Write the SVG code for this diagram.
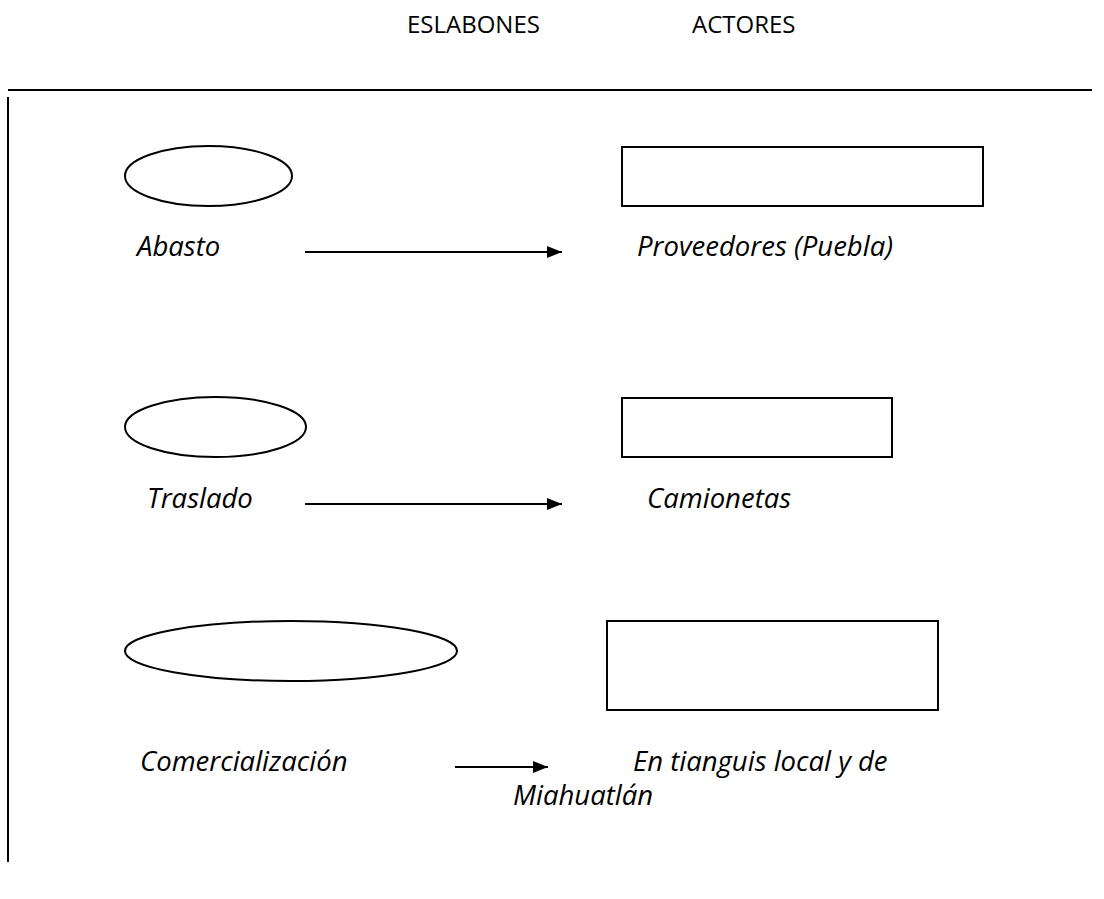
<svg xmlns="http://www.w3.org/2000/svg" width="1104" height="899" viewBox="0 0 1104 899">
<style>
.t{font-family:"Open Sans","Liberation Sans",sans-serif;font-size:24px;fill:#000}
.i{font-style:italic;font-size:27.5px}
.s{fill:#fff;stroke:#000;stroke-width:2}
.c{stroke:#000;stroke-width:2;fill:none}
</style>
<defs>
<marker id="ah" markerWidth="15" markerHeight="12" refX="15" refY="6" orient="auto" markerUnits="userSpaceOnUse">
<path d="M0,0 L15,6 L0,12 Z" fill="#000"/>
</marker>
</defs>
<rect width="1104" height="899" fill="#fff"/>
<g id="header">
<text class="t" x="407" y="33">ESLABONES</text>
<text class="t" x="692" y="33">ACTORES</text>
<line class="c" x1="8" y1="90" x2="1092" y2="90"/>
<line class="c" x1="8" y1="97" x2="8" y2="862"/>
</g>
<g id="n-abasto">
<ellipse class="s" cx="208.5" cy="176" rx="83.5" ry="30"/>
<text class="t i" x="137" y="256">Abasto</text>
</g>
<g id="n-proveedores">
<rect class="s" x="622" y="147" width="361" height="59"/>
<text class="t i" x="637" y="256">Proveedores (Puebla)</text>
</g>
<g id="n-traslado">
<ellipse class="s" cx="215.5" cy="427" rx="90.5" ry="30"/>
<text class="t i" x="147" y="508">Traslado</text>
</g>
<g id="n-camionetas">
<rect class="s" x="622" y="398" width="270" height="59"/>
<text class="t i" x="647" y="508">Camionetas</text>
</g>
<g id="n-comercializacion">
<ellipse class="s" cx="291" cy="651" rx="166" ry="30"/>
<text class="t i" x="140" y="771">Comercialización</text>
</g>
<g id="n-tianguis">
<rect class="s" x="607" y="621" width="331" height="89"/>
<text class="t i" x="633" y="771">En tianguis local y de</text>
<text class="t i" x="513" y="805">Miahuatlán</text>
</g>
<g id="connectors">
<line class="c" x1="305" y1="252" x2="562" y2="252" marker-end="url(#ah)"/>
<line class="c" x1="305" y1="504" x2="562" y2="504" marker-end="url(#ah)"/>
<line class="c" x1="455" y1="767" x2="548" y2="767" marker-end="url(#ah)"/>
</g>
</svg>
